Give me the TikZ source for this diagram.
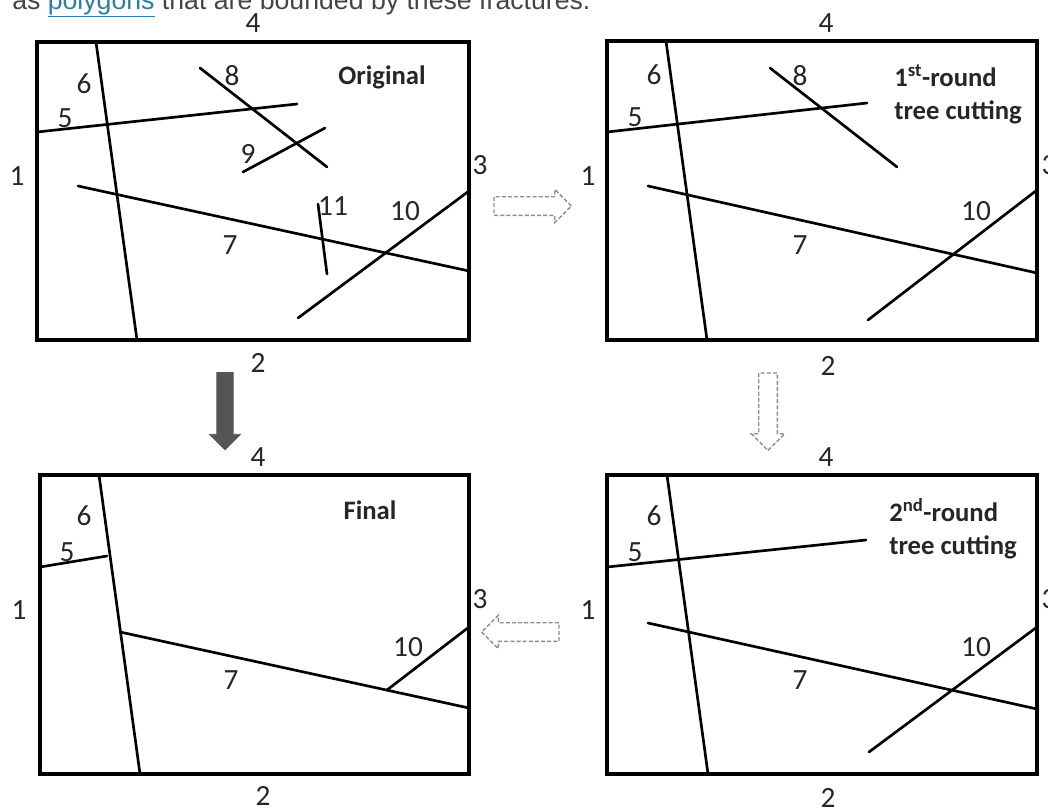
\documentclass[tikz,border=0pt]{standalone}
\usepackage{fontspec}
\setmainfont{Carlito}
\newfontfamily\pagefont{Liberation Sans}
\usetikzlibrary{shapes.arrows}
\definecolor{linkblue}{HTML}{2A7FA8}
\definecolor{pagegray}{HTML}{454545}
\definecolor{arrowgray}{HTML}{555555}

\begin{document}
\begin{tikzpicture}[x=0.75pt, y=-0.75pt,
  frame/.style={draw, line width=2.3pt},
  frac/.style={line width=2pt, line cap=round},
  num/.style={font=\fontsize{22}{24}\selectfont, text=black!85, inner sep=0pt},
  title/.style={font=\fontsize{20}{25}\selectfont\bfseries, text=black!85, align=left, inner sep=0pt},
  hollow/.style={single arrow, draw=black!45, dash pattern=on 3pt off 1.6pt, line width=1pt,
                 inner sep=6.5pt, single arrow head extend=5.5pt, minimum height=58pt},
  solidarrow/.style={single arrow, draw=arrowgray, fill=arrowgray, line width=0.6pt,
                 inner sep=5.8pt, single arrow head extend=5.5pt, minimum height=58pt}]
\useasboundingbox (0,0) rectangle (1048,810);
\clip (0,0) rectangle (1048,810);

% page text cut by the top edge
\node[anchor=base west, inner sep=0pt, text=pagegray, font=\pagefont\fontsize{20}{24}\selectfont]
  (pagetext) at (12,9) {as \textcolor{linkblue}{\underline{polygons}} that are bounded by these fractures.};

% --- original
\draw[frame] (37,42) rectangle (469,340);
\draw[frac] (96,42) -- (137,340);
\draw[frac] (37,132) -- (297,104);
\draw[frac] (200,68) -- (327,167);
\draw[frac] (243,172) -- (325,128);
\draw[frac] (78,186) -- (469,271);
\draw[frac] (318,204) -- (327,274);
\draw[frac] (298,318) -- (469,191);
\foreach \t/\x/\y in {4/253/23, 1/17/176, 2/258/363, 3/480/165, 6/84/84, 5/65/118,
                      8/232/76, 9/248/154, 11/333/206, 10/405/211, 7/230/245}
  \node[num] (o\t) at (\x,\y) {\t};
\node[title] (torig) at (382,77) {Original};

% --- 1st round
\draw[frame] (607,41) rectangle (1037,340);
\draw[frac] (666,41) -- (707,340);
\draw[frac] (607,132) -- (867,103);
\draw[frac] (770,68) -- (897,167);
\draw[frac] (648,186) -- (1037,273);
\draw[frac] (868,320) -- (1037,190);
\foreach \t/\x/\y in {4/826/23, 1/588/176, 2/828/366, 3/1049/165, 6/654/75, 5/635/117,
                      8/800/76, 10/976/211, 7/800/245}
  \node[num] (a\t) at (\x,\y) {\t};
\node[title, anchor=north west] (tfirst) at (894,64) {1\textsuperscript{st}-round\\tree cutting};

% --- 2nd round
\draw[frame] (607,475) rectangle (1037,774);
\draw[frac] (667,475) -- (708,774);
\draw[frac] (607,567) -- (866,540);
\draw[frac] (648,623) -- (1037,709);
\draw[frac] (869,752) -- (1037,627);
\foreach \t/\x/\y in {4/826/457, 1/588/610, 2/828/798, 3/1049/599, 6/654/516, 5/635/552,
                      10/976/647, 7/800/680}
  \node[num] (b\t) at (\x,\y) {\t};
\node[title, anchor=north west] (tsecond) at (889,498) {2\textsuperscript{nd}-round\\tree cutting};

% --- final
\draw[frame] (40,475) rectangle (469,774);
\draw[frac] (99,475) -- (140,774);
\draw[frac] (40,567) -- (107,556);
\draw[frac] (120,632) -- (469,708);
\draw[frac] (387,690) -- (469,627);
\foreach \t/\x/\y in {4/258/457, 1/19/610, 2/263/796, 3/480/599, 6/84/516, 5/67/552,
                      10/408/647, 7/231/680}
  \node[num] (f\t) at (\x,\y) {\t};
\node[title] (tfinal) at (370,510) {Final};

% steps between the panels
\node[hollow] (step1) at (528,206) {};
\node[hollow, shape border rotate=270] (step2) at (768,407) {};
\node[hollow, shape border rotate=180] (step3) at (525,632) {};
\node[solidarrow, shape border rotate=270] (direct) at (225,407) {};
\end{tikzpicture}
\end{document}
